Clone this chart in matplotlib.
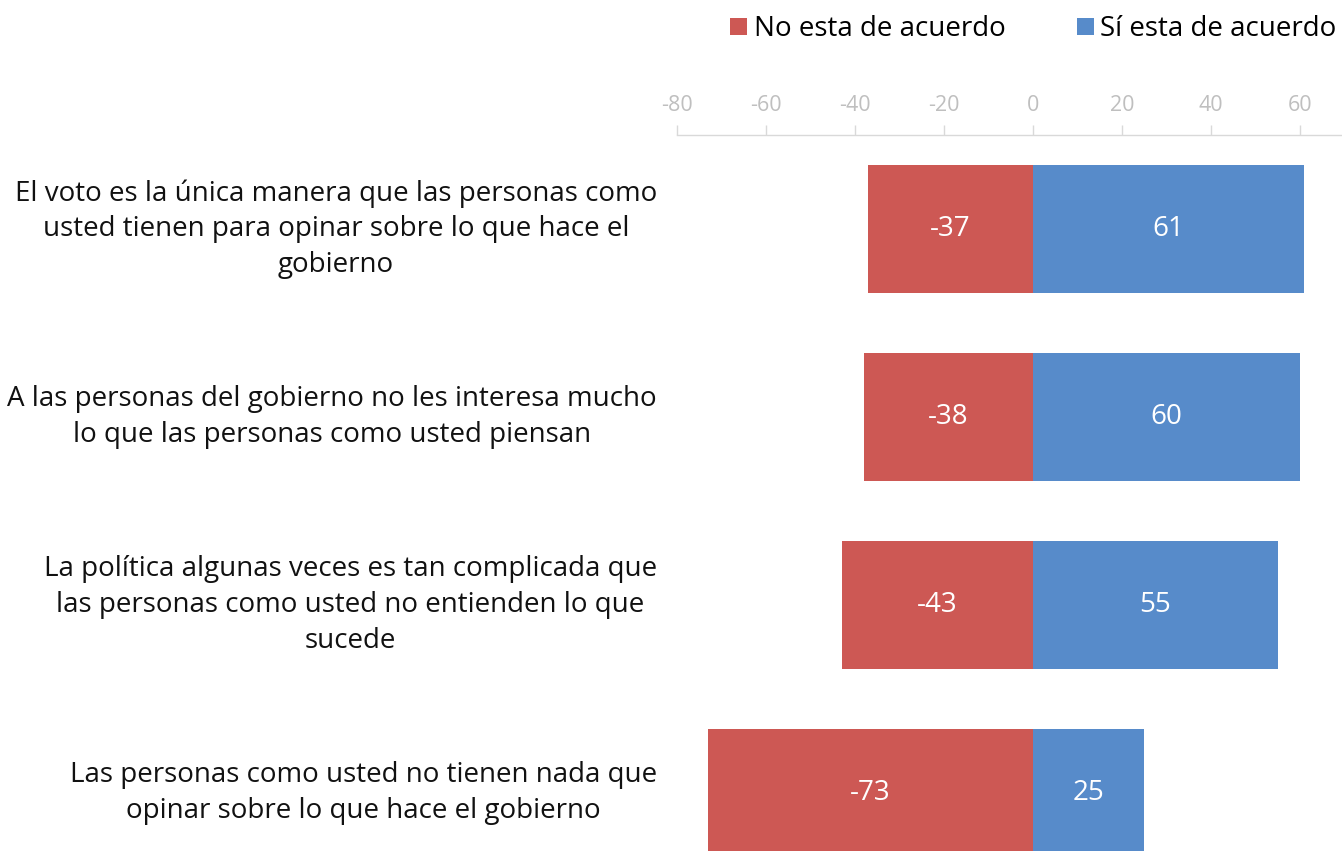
import numpy as np
import matplotlib.pyplot as plt

plt.rcParams['font.family'] = ['Open Sans', 'DejaVu Sans']

# Data
categories = [
    "El voto es la única manera que las personas como\nusted tienen para opinar sobre lo que hace el\ngobierno",
    "A las personas del gobierno no les interesa mucho\nlo que las personas como usted piensan",
    "La política algunas veces es tan complicada que\nlas personas como usted no entienden lo que\nsucede",
    "Las personas como usted no tienen nada que\nopinar sobre lo que hace el gobierno",
]
no_acuerdo = [-37, -38, -43, -73]
si_acuerdo = [61, 60, 55, 25]
series_names = ["No esta de acuerdo", "Sí esta de acuerdo"]
ticks = [-80, -60, -40, -20, 0, 20, 40, 60]

RED = '#CD5854'
BLUE = '#578BCA'

W, H = 1342, 851
PX = 4.45  # pixels per unit
fig = plt.figure(figsize=(W / 100, H / 100), dpi=100)
ax = fig.add_axes([677 / W, 0, 1 - 677 / W, (H - 135) / H])

y = np.arange(len(categories))
bh = 0.686
b1 = ax.barh(y, no_acuerdo, height=bh, color=RED, label=series_names[0])
b2 = ax.barh(y, si_acuerdo, height=bh, color=BLUE, label=series_names[1])

for bars, vals in [(b1, no_acuerdo), (b2, si_acuerdo)]:
    for rect, v in zip(bars, vals):
        ax.text(v / 2, rect.get_y() + rect.get_height() / 2, f"{v}",
                ha='center', va='center', color='white', fontsize=20)

ax.set_xlim(-80, (W - 1033) / PX)
ax.set_ylim(-0.5 + (H - 135) / 188, -0.5)

ax.xaxis.tick_top()
ax.set_xticks(ticks)
ax.set_xticklabels([str(t) for t in ticks])
ax.tick_params(axis='x', colors='#D9D9D9', labelcolor='#BFBFBF', labelsize=15.5,
               length=7, width=1, direction='out', pad=6.5)
ax.set_yticks([])

for s in ['right', 'bottom', 'left']:
    ax.spines[s].set_visible(False)
ax.spines['top'].set_color('#D9D9D9')
ax.spines['top'].set_linewidth(1)

# category labels, 20px left of the axis start
for yi, lab in zip(y, categories):
    ax.text(-80 - 20 / PX, yi, lab, ha='right', va='center', multialignment='center',
            fontsize=20, color='#111111', linespacing=1.36)

fig.legend(handles=[b1, b2], labels=series_names, loc='upper right',
           bbox_to_anchor=(1.0 + 10 / W, 1.0), ncol=2, frameon=False, fontsize=20,
           handlelength=0.6, handleheight=0.6, handletextpad=0.25,
           columnspacing=2.56, borderaxespad=0.15)

fig.savefig('out.png', dpi=100)
